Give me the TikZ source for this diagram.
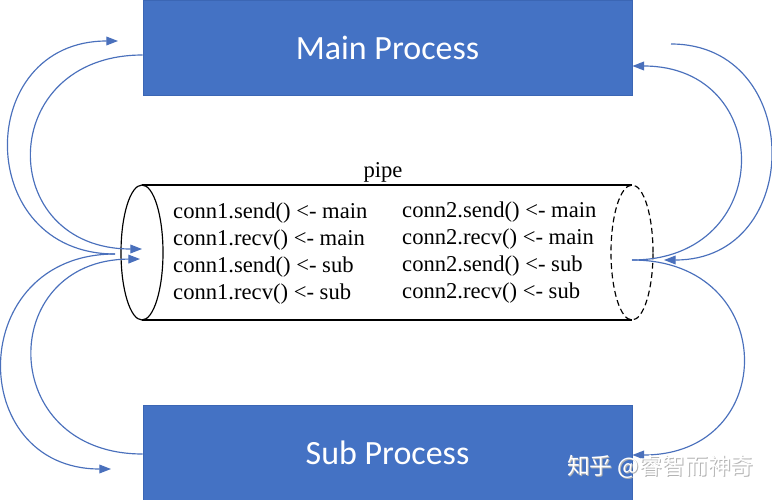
\documentclass[tikz,border=0pt]{standalone}
\usepackage{fontspec}
\setmainfont{Liberation Serif}
\newfontfamily\boxfont{Carlito}
\newfontfamily\cjkfont{Noto Sans CJK SC}
\usetikzlibrary{calc, arrows.meta, positioning}

\definecolor{procblue}{HTML}{4472C4}
\definecolor{procedge}{HTML}{3B66B4}
\definecolor{flowblue}{HTML}{4A70BC}

\begin{document}
\begin{tikzpicture}[x=0.03cm, y=-0.03cm, >={Triangle[length=10pt,width=7.5pt]}]
  \useasboundingbox (0,0) rectangle (772,500);
  \tikzset{
    proc/.style={fill=procblue, draw=procedge, line width=0.6pt, text=white,
      minimum width=14.67cm, minimum height=2.85cm, inner sep=0pt,
      font=\boxfont\fontsize{29}{34}\selectfont},
    flow/.style={draw=flowblue, line width=1pt},
    call/.style={anchor=base west, inner sep=0pt, font=\fontsize{19.3}{23}\selectfont}
  }
  % Processes
  \node[proc] (main) at (387.5,47.5) {Main Process};
  \node[proc] (sub) at (387.5,452.5) {Sub Process};
  % Pipe
  \coordinate (lc) at (142,252.5);
  \coordinate (rc) at (632,252.5);
  \draw[line width=1pt] (lc) ellipse [x radius=0.63cm, y radius=2.025cm];
  \draw[line width=1pt] (142,185) -- (632,185) (142,320) -- (632,320);
  \draw[line width=1pt, dash pattern=on 5pt off 3pt] (rc) ellipse [x radius=0.63cm, y radius=2.025cm];
  \node[call, anchor=base] (pipe) at (383,177) {pipe};
  % Calls on the two ends
  \foreach \op [count=\i] in {send() <- main, recv() <- main, send() <- sub, recv() <- sub} {
    \node[call] (a\i) at (173, {218+27.3*(\i-1)}) {conn1.\op};
    \node[call] (b\i) at (402, {217+27.3*(\i-1)}) {conn2.\op};
  }
  % Free ends of the arrows
  \coordinate (hubL) at (115,254);
  \coordinate (hubR) at (632,260);
  \coordinate (inL1) at (142,249);
  \coordinate (inL2) at (140,259);
  \coordinate (inR) at (664,260);
  \coordinate (outM) at (118,41);
  \coordinate (outS) at (111,469);
  \coordinate (startR) at (671,44);
  % Left side
  \draw[flow, ->] ($(main.west)+(0,7.5)$) .. controls (-5,55) and (-5,249) .. (inL1);
  \draw[flow, ->] (hubL) .. controls (-27,254) and (-27,41) .. (outM);
  \draw[flow, ->] (hubL) .. controls (-35,254) and (-35,469) .. (outS);
  \draw[flow, ->] ($(sub.west)+(0,1.5)$) .. controls (-4,454) and (-4,260) .. (inL2);
  % Right side
  \draw[flow, ->] (startR) .. controls (805,44) and (805,260) .. (inR);
  \draw[flow, ->] (hubR) .. controls (776,260) and (776,66) .. ($(main.east)+(0,18.5)$);
  \draw[flow, ->] (hubR) .. controls (780,260) and (780,455) .. ($(sub.east)+(0,2.5)$);
  % Watermark
  \node[anchor=west, text=gray!60, font=\cjkfont\fontsize{19.5}{22}\selectfont] (mark) at (564,468) {知乎 @睿智而神奇};
  \node[anchor=west, text=white, font=\cjkfont\fontsize{19.5}{22}\selectfont] at (563,467) {知乎 @睿智而神奇};
\end{tikzpicture}
\end{document}
